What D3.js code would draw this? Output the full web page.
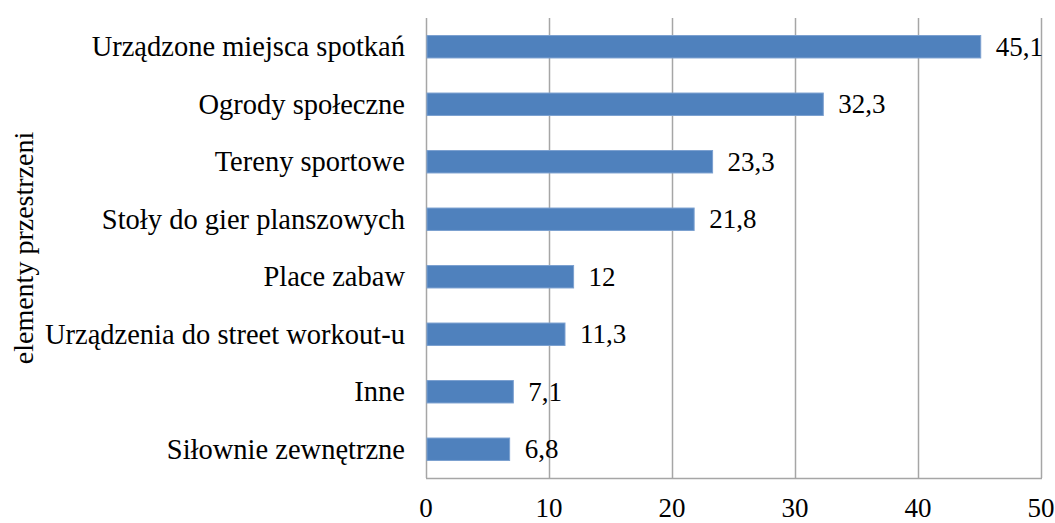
<!DOCTYPE html>
<html>
<head>
<meta charset="utf-8">
<script src="https://cdn.jsdelivr.net/npm/d3@7"></script>
<style>
  body { margin: 0; background: #fff; }
  svg { display: block; }
</style>
</head>
<body>
<svg id="chart" width="1055" height="523"></svg>
<script>
// data, top to bottom
var categories = [
  'Urządzone miejsca spotkań',
  'Ogrody społeczne',
  'Tereny sportowe',
  'Stoły do gier planszowych',
  'Place zabaw',
  'Urządzenia do street workout-u',
  'Inne',
  'Siłownie zewnętrzne'
];
var values = [45.1, 32.3, 23.3, 21.8, 12, 11.3, 7.1, 6.8];
var valueLabels = ['45,1', '32,3', '23,3', '21,8', '12', '11,3', '7,1', '6,8'];
var ticks = [0, 10, 20, 30, 40, 50];
var axisTitle = 'elementy przestrzeni';

var font = '"Liberation Serif", "Times New Roman", serif';
var margin = {top: 18, right: 14, bottom: 45, left: 426};
var svg = d3.select('#chart');
var width = 1055 - margin.left - margin.right;
var height = 523 - margin.top - margin.bottom;

var g = svg.append('g')
  .attr('transform', 'translate(' + margin.left + ',' + margin.top + ')')
  .attr('font-family', font)
  .attr('fill', '#000');

var x = d3.scaleLinear().domain([0, 50]).range([0, width]);
var y = d3.scaleBand().domain(categories).range([0, height]).paddingInner(0.61).paddingOuter(0.305);

// grid lines
g.selectAll('line.grid')
  .data(ticks)
  .enter().append('line')
  .attr('class', 'grid')
  .attr('x1', function(d) { return Math.round(x(d)) + 0.5; })
  .attr('x2', function(d) { return Math.round(x(d)) + 0.5; })
  .attr('y1', 0)
  .attr('y2', height)
  .attr('stroke', '#a6a6a6')
  .attr('stroke-width', 1.5);

// bottom axis line
g.append('line')
  .attr('x1', 0).attr('x2', Math.round(x(50)) + 1)
  .attr('y1', height + 0.5).attr('y2', height + 0.5)
  .attr('stroke', '#a6a6a6')
  .attr('stroke-width', 1.5);

// bars
g.selectAll('rect.bar')
  .data(values)
  .enter().append('rect')
  .attr('class', 'bar')
  .attr('x', x(0) + 1)
  .attr('y', function(d, i) { return y(categories[i]); })
  .attr('width', function(d) { return x(d) - x(0) - 1; })
  .attr('height', y.bandwidth())
  .attr('fill', '#4f81bd')
  .attr('stroke', '#7ba0d0')
  .attr('stroke-width', 1);

// value labels
g.selectAll('text.val')
  .data(values)
  .enter().append('text')
  .attr('class', 'val')
  .attr('x', function(d) { return x(d) + 15; })
  .attr('y', function(d, i) { return y(categories[i]) + y.bandwidth() / 2; })
  .attr('dy', '0.33em')
  .attr('font-size', 27)
  .text(function(d, i) { return valueLabels[i]; });

// category labels
g.selectAll('text.cat')
  .data(categories)
  .enter().append('text')
  .attr('class', 'cat')
  .attr('x', -21)
  .attr('y', function(d) { return y(d) + y.bandwidth() / 2; })
  .attr('dy', '0.33em')
  .attr('text-anchor', 'end')
  .attr('font-size', 28.5)
  .text(function(d) { return d; });

// x tick labels
g.selectAll('text.tick')
  .data(ticks)
  .enter().append('text')
  .attr('class', 'tick')
  .attr('x', function(d) { return x(d); })
  .attr('y', height + 39)
  .attr('text-anchor', 'middle')
  .attr('font-size', 27)
  .text(function(d) { return d; });

// axis title
svg.append('text')
  .attr('transform', 'translate(33,248) rotate(-90)')
  .attr('text-anchor', 'middle')
  .attr('font-family', font)
  .attr('font-size', 28)
  .attr('fill', '#000')
  .text(axisTitle);
</script>
</body>
</html>
